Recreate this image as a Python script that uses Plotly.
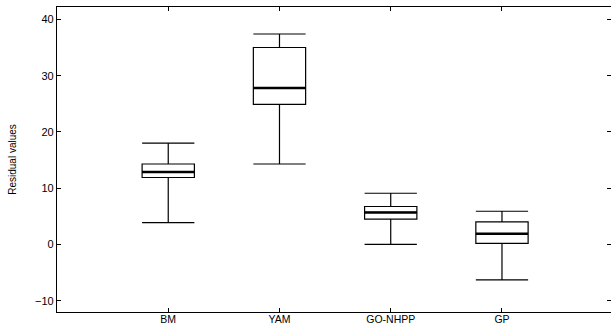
import plotly.graph_objects as go

categories = ["BM", "YAM", "GO-NHPP", "GP"]
lower_whisker = [3.9, 14.3, 0.0, -6.3]
q1_vals = [11.9, 24.9, 4.5, 0.2]
median_vals = [12.9, 27.8, 5.7, 1.9]
q3_vals = [14.3, 35.0, 6.75, 4.0]
upper_whisker = [18.0, 37.4, 9.1, 5.9]
y_ticks = [-10, 0, 10, 20, 30, 40]

positions = list(range(1, len(categories) + 1))
box_w = 0.47

fig = go.Figure()
fig.add_trace(go.Box(
    x=positions, q1=q1_vals, median=median_vals, q3=q3_vals,
    lowerfence=lower_whisker, upperfence=upper_whisker,
    width=box_w, whiskerwidth=1,
    line=dict(color="black", width=1.2), fillcolor="white",
    boxpoints=False, showlegend=False, hoverinfo="skip",
))
# thicker median lines
mx, my = [], []
for p, m in zip(positions, median_vals):
    mx += [p - box_w / 2, p + box_w / 2, None]
    my += [m, m, None]
fig.add_trace(go.Scatter(x=mx, y=my, mode="lines",
                         line=dict(color="black", width=2.5),
                         showlegend=False, hoverinfo="skip"))
# right-side ticks only
fig.add_trace(go.Scatter(x=[None], y=[None], yaxis="y2", showlegend=False))

font = dict(family="Liberation Sans, Arial, sans-serif", size=11, color="black")
fig.update_layout(
    width=611, height=326,
    margin=dict(l=57, r=0, t=7, b=14),
    paper_bgcolor="white", plot_bgcolor="white",
    font=font,
    xaxis=dict(range=[0, 4.98], tickvals=positions, ticktext=categories,
               showgrid=False, zeroline=False, showline=True, linecolor="black",
               linewidth=1.2, mirror="ticks", ticks="inside", ticklen=4,
               tickcolor="black", tickfont=dict(family=font["family"], size=10.5, color="black"),
               automargin=False, ticklabelstandoff=-3),
    yaxis=dict(range=[-12, 42.2], tickvals=y_ticks, showgrid=False, zeroline=False,
               showline=True, linecolor="black", linewidth=1.2, ticks="inside",
               ticklen=4, tickcolor="black", tickfont=font, automargin=False,
               title=dict(text="Residual values", font=dict(family=font["family"], size=10),
                          standoff=16)),
    yaxis2=dict(overlaying="y", side="right", matches="y", range=[-12, 42.2],
                tickvals=y_ticks, showticklabels=False, showgrid=False,
                zeroline=False, showline=False, ticks="inside", ticklen=4,
                tickcolor="black"),
)
fig.write_html("out.html")
